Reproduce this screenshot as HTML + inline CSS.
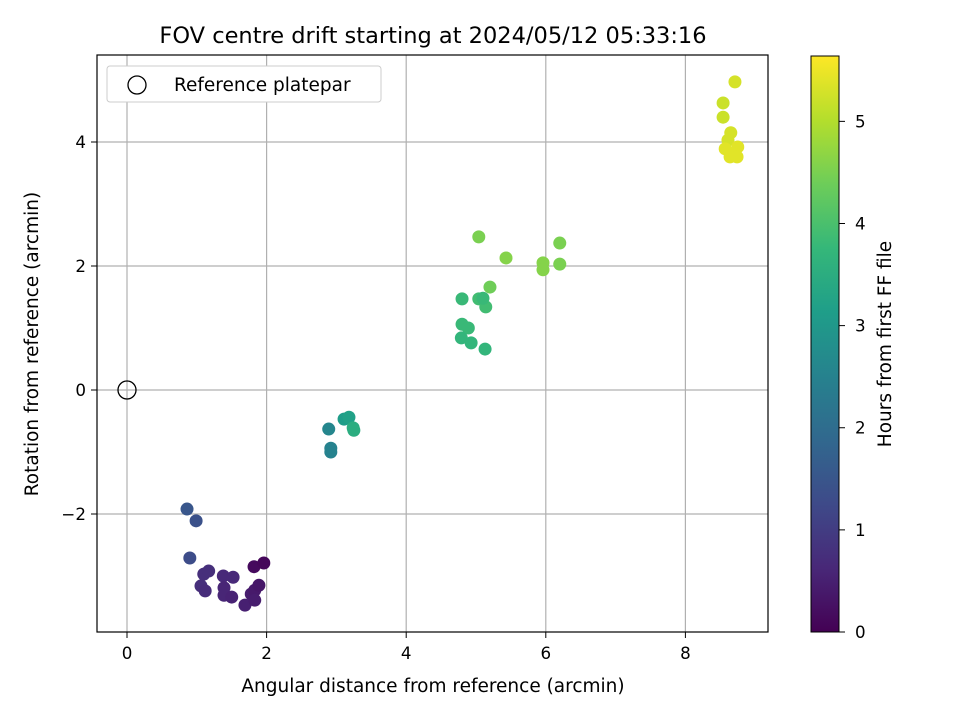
<!DOCTYPE html>
<html><head><meta charset="utf-8"><style>body{margin:0;background:#fff}svg{display:block;font-family:"DejaVu Sans","Liberation Sans",sans-serif}</style></head>
<body>
<svg id="c" width="960" height="720"></svg>
<script>
const xs=[1.10,1.17,1.06,1.12,1.38,1.52,1.39,1.39,1.50,1.69,1.78,1.83,1.89,1.82,1.96,1.83,0.86,0.99,0.90,2.89,2.92,2.92,3.11,3.18,3.24,3.25,5.04,5.43,5.96,5.96,6.20,6.20,5.20,4.80,5.04,5.14,5.10,4.80,4.89,4.79,4.93,5.13,8.71,8.54,8.54,8.65,8.61,8.75,8.57,8.67,8.74,8.64];
const ys=[-2.97,-2.92,-3.16,-3.24,-3.00,-3.02,-3.19,-3.31,-3.34,-3.47,-3.29,-3.23,-3.15,-2.85,-2.79,-3.39,-1.92,-2.11,-2.71,-0.63,-0.94,-1.00,-0.47,-0.44,-0.61,-0.65,2.47,2.13,2.05,1.94,2.37,2.03,1.66,1.47,1.47,1.34,1.48,1.06,1.00,0.84,0.76,0.66,4.97,4.63,4.40,4.15,4.03,3.92,3.89,3.79,3.76,3.76];
const hours=[0.75,0.75,0.75,0.7,0.65,0.65,0.6,0.6,0.55,0.5,0.45,0.4,0.35,0.15,0.1,0.45,1.5,1.4,1.3,2.6,2.5,2.5,3.1,3.2,3.5,3.5,4.5,4.6,4.6,4.6,4.5,4.5,4.4,3.8,3.9,3.9,3.8,3.8,3.8,3.7,3.7,3.7,5.3,5.2,5.2,5.3,5.3,5.4,5.4,5.4,5.4,5.4];
const xTicks=[0,2,4,6,8];
const yTicks=[-2,0,2,4];
const cTicks=[0,1,2,3,4,5];
const L=97,R=768,T=55,B=632;
const X=v=>127+v*69.8, Y=v=>390-v*62;
const CT=56,CB=632,CMAX=5.64, C=h=>CB-h/CMAX*(CB-CT);
const vir=[[68,1,84],[72,40,120],[62,74,137],[49,104,142],[38,130,142],[31,158,137],[53,183,121],[109,205,89],[180,222,44],[253,231,37]];
function col(h){let t=Math.max(0,Math.min(1,h/CMAX))*9,i=Math.min(8,Math.floor(t)),f=t-i,a=vir[i],b=vir[i+1];return 'rgb('+a.map((v,k)=>Math.round(v+(b[k]-v)*f)).join(',')+')';}
const s=document.getElementById('c');const NS='http://www.w3.org/2000/svg';
function el(t,a,p,txt){const e=document.createElementNS(NS,t);for(const k in a)e.setAttribute(k,a[k]);if(txt!==undefined)e.textContent=txt;(p||s).appendChild(e);return e;}
const defs=el('defs',{});const g=el('linearGradient',{id:'vg',x1:0,y1:1,x2:0,y2:0},defs);
vir.forEach((c,i)=>el('stop',{offset:i/9,'stop-color':'rgb('+c.join(',')+')'},g));
let e;
xTicks.forEach(v=>{e=el('line',{x1:X(v),x2:X(v),y1:T,y2:B,stroke:'#b0b0b0','stroke-width':1.2});});
yTicks.forEach(v=>{e=el('line',{x1:L,x2:R,y1:Y(v),y2:Y(v),stroke:'#b0b0b0','stroke-width':1.2});});
e=el('circle',{cx:X(0),cy:Y(0),r:9,fill:'none',stroke:'#000','stroke-width':1.3});
xs.forEach((x,i)=>{e=el('circle',{cx:X(x),cy:Y(ys[i]),r:6.5,fill:col(hours[i])});});
e=el('rect',{x:L,y:T,width:R-L,height:B-T,fill:'none',stroke:'#000','stroke-width':1.2});
xTicks.forEach(v=>{el('line',{x1:X(v),x2:X(v),y1:B,y2:B+6,stroke:'#000'});e=el('text',{x:X(v),y:B+27,'text-anchor':'middle','font-size':16.7},s,v<0?'\u2212'+(-v):v);});
yTicks.forEach(v=>{el('line',{x1:L-6,x2:L,y1:Y(v),y2:Y(v),stroke:'#000'});e=el('text',{x:L-11,y:Y(v)+6,'text-anchor':'end','font-size':16.7},s,v<0?'\u2212'+(-v):v);});
e=el('text',{x:433,y:692,'text-anchor':'middle','font-size':18.5},s,'Angular distance from reference (arcmin)');
e=el('text',{x:38,y:344,'text-anchor':'middle','font-size':18.5,transform:'rotate(-90 38 344)'},s,'Rotation from reference (arcmin)');
e=el('text',{x:433,y:43,'text-anchor':'middle','font-size':22.5},s,'FOV centre drift starting at 2024/05/12 05:33:16');
const lg=el('g',{});
el('rect',{x:107,y:66,width:274,height:36,rx:3,fill:'#fff',stroke:'#ccc'},lg);
el('circle',{cx:137,cy:85,r:9,fill:'none',stroke:'#000','stroke-width':1.3},lg);
el('text',{x:174,y:91,'font-size':18.5},lg,'Reference platepar');
e=el('rect',{x:811,y:CT,width:28,height:CB-CT,fill:'url(#vg)',stroke:'#000','stroke-width':1});
cTicks.forEach(v=>{el('line',{x1:839,x2:845,y1:C(v),y2:C(v),stroke:'#000'});e=el('text',{x:855,y:C(v)+6,'font-size':16.7},s,v);});
e=el('text',{x:891,y:344,'text-anchor':'middle','font-size':18.5,transform:'rotate(-90 891 344)'},s,'Hours from first FF file');
</script>
</body></html>
